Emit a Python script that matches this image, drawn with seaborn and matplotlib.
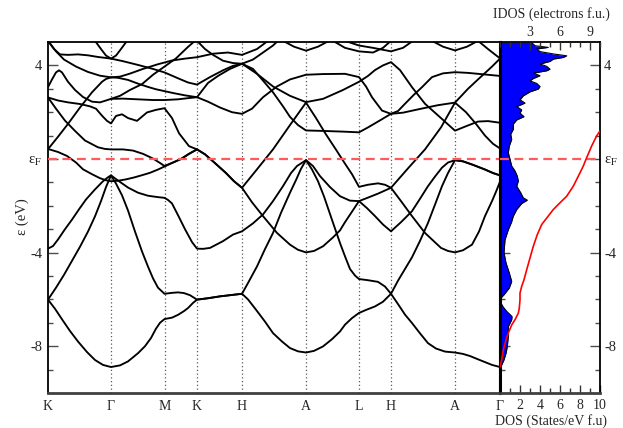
import matplotlib
matplotlib.use("Agg")
import matplotlib.pyplot as plt
import pandas as pd
import seaborn as sns
from matplotlib.ticker import FixedLocator, MultipleLocator

# High-symmetry path (positions along the path, arbitrary length units)
kpoint_labels = ["K", "Γ", "M", "K", "H", "A", "L", "H", "A", "Γ"]
kpoint_pos = [0, 63, 116.5, 149, 194, 258, 311, 343, 407, 452]

# Band energies (eV, relative to the Fermi level) as (k, E) pairs
band01 = [(0, -6.01), (7, -6.4), (14, -6.85), (22, -7.35), (30, -7.8), (39, -8.25), (47, -8.59), (55, -8.8),
          (63, -8.89), (72, -8.82), (80, -8.65), (90, -8.3), (97, -8.0), (103, -7.65), (108, -7.25), (112, -7.0),
          (116.5, -6.84), (124, -6.78), (130, -6.66), (136, -6.5), (140, -6.37), (145, -6.15), (149, -6.01),
          (160, -5.95), (172, -5.87), (184, -5.81), (194, -5.76), (200, -6.0), (208, -6.44), (217, -6.95),
          (225, -7.44), (234, -7.8), (242, -8.08), (250, -8.22), (258, -8.27), (266, -8.2), (275, -8.01),
          (284, -7.7), (292, -7.37), (297, -7.08), (304, -6.8), (311, -6.58), (318, -6.45), (327, -6.3),
          (335, -6.1), (343, -5.76), (350, -6.2), (357, -6.65), (364, -7.01), (372, -7.45), (380, -7.87),
          (388, -8.1), (397, -8.23), (407, -8.27), (415, -8.33), (422, -8.42), (430, -8.56), (437, -8.68),
          (444, -8.8), (452, -8.89)]
band02 = [(0, -6.01), (8, -5.5), (16, -4.95), (24, -4.35), (32, -3.75), (40, -3.1), (47, -2.45), (53, -1.8),
          (58, -1.2), (63, -0.70), (68, -1.05), (74, -1.55), (80, -2.2), (87, -3.1), (94, -3.95), (100, -4.6),
          (105, -5.1), (110, -5.5), (116.5, -5.76), (124, -5.72), (130, -5.70), (136, -5.73), (142, -5.82),
          (149, -6.01), (160, -5.95), (172, -5.87), (184, -5.81), (194, -5.76), (200, -5.3), (209, -4.59),
          (217, -3.85), (225, -3.16), (233, -2.3), (242, -1.44), (248, -0.9), (253, -0.42), (258, -0.05),
          (264, -0.45), (270, -0.95), (276, -1.6), (284, -2.6), (292, -3.59), (297, -4.16), (302, -4.7),
          (307, -4.98), (311, -5.13), (320, -5.18), (330, -5.25), (337, -5.45), (343, -5.76), (350, -5.2),
          (357, -4.7), (364, -4.2), (372, -3.5), (380, -2.73), (387, -1.95), (394, -1.16), (400, -0.6),
          (407, -0.05), (415, -0.1), (425, -0.25), (437, -0.45), (445, -0.6), (452, -0.70)]
band03 = [(0, -3.83), (5, -3.72), (10, -3.44), (17, -3.0), (24, -2.59), (31, -2.15), (38, -1.73), (47, -1.3),
          (55, -0.95), (60, -0.78), (63, -0.70), (70, -0.92), (80, -1.22), (90, -1.44), (100, -1.57),
          (110, -1.63), (116.5, -1.66), (120, -1.75), (124, -1.9), (130, -2.4), (137, -3.0), (144, -3.55),
          (149, -3.83), (155, -3.84), (162, -3.8), (175, -3.51), (185, -3.23), (194, -3.09), (205, -2.75),
          (215, -2.37), (225, -1.8), (235, -1.16), (243, -0.6), (249, -0.3), (258, -0.05), (265, -0.3),
          (272, -0.73), (282, -1.2), (292, -1.59), (302, -1.78), (311, -1.80), (319, -2.1), (327, -2.44),
          (335, -2.8), (343, -3.09), (353, -2.7), (364, -2.23), (372, -1.7), (380, -1.16), (387, -0.75),
          (394, -0.37), (400, -0.15), (407, -0.05), (415, -0.1), (425, -0.25), (437, -0.45), (445, -0.6),
          (452, -0.70)]
band04 = [(0, 0.43), (10, 0.3), (19, 0.13), (28, -0.15), (35, -0.44), (44, -0.65), (52, -0.82), (58, -0.91),
          (63, -0.95), (70, -0.93), (78, -0.87), (86, -0.79), (95, -0.68), (102, -0.59), (110, -0.45),
          (116.5, -0.32), (125, -0.15), (133, 0.0), (141, 0.22), (149, 0.41), (157, 0.2), (165, -0.1),
          (178, -0.6), (186, -0.95), (194, -1.23), (204, -1.85), (215, -2.44), (229, -3.16), (242, -3.66),
          (250, -3.88), (258, -3.99), (266, -3.93), (275, -3.73), (285, -3.35), (292, -3.05), (297, -2.7),
          (304, -2.25), (311, -1.80), (320, -1.65), (330, -1.48), (343, -1.23), (353, -1.8), (364, -2.44),
          (377, -3.16), (393, -3.8), (400, -3.93), (407, -3.99), (415, -3.9), (424, -3.66), (431, -3.1),
          (437, -2.44), (444, -1.8), (448, -1.4), (452, -0.97)]
band05 = [(0, 2.63), (8, 2.15), (17, 1.64), (27, 1.2), (37, 0.79), (50, 0.5), (57, 0.43), (63, 0.41),
          (75, 0.41), (85, 0.36), (95, 0.22), (105, 0.02), (112, -0.17), (116.5, -0.30), (125, -0.15),
          (133, 0.0), (141, 0.22), (149, 0.41), (157, 0.2), (165, -0.1), (178, -0.6), (186, -0.95),
          (194, -1.23), (209, -0.44), (225, 0.41), (242, 1.45), (258, 2.41), (268, 1.75), (278, 1.05),
          (288, 0.4), (297, -0.2), (304, -0.65), (311, -1.19), (320, -1.1), (330, -1.04), (337, -1.1),
          (343, -1.23), (360, -0.4), (377, 0.41), (393, 1.35), (407, 2.41), (420, 3.0), (430, 3.4),
          (444, 3.95), (452, 4.29)]
band06 = [(0, 0.42), (10, 0.95), (20, 1.5), (32, 2.2), (44, 2.85), (54, 3.3), (58, 3.42), (63, 3.49),
          (70, 3.47), (80, 3.38), (90, 3.22), (100, 3.08), (108, 2.98), (116.5, 2.9), (125, 2.82), (137, 2.72),
          (149, 2.64), (160, 2.45), (172, 2.2), (184, 2.0), (194, 1.93), (204, 2.15), (215, 2.64), (229, 3.1),
          (242, 3.4), (258, 3.6), (275, 3.63), (297, 3.64), (311, 3.5), (318, 3.1), (324, 2.64), (334, 2.07),
          (343, 1.93), (350, 2.05), (357, 2.36), (366, 2.75), (374, 3.07), (384, 3.5), (395, 3.66),
          (407, 3.71), (420, 3.68), (435, 3.62), (452, 3.55)]
band07 = [(0, 2.63), (10, 2.5), (20, 2.42), (32, 2.35), (42, 2.25), (48, 2.15), (54, 1.85), (59, 1.63),
          (63, 1.52), (68, 1.84), (74, 1.91), (80, 1.75), (89, 1.63), (99, 1.99), (108, 2.1), (116.5, 2.17),
          (124, 1.75), (131, 1.1), (141, 0.55), (149, 0.41)]
band08 = [(0, 3.07), (4, 3.4), (8, 3.7), (11, 3.79), (14, 3.7), (20, 3.3), (27, 2.95), (35, 2.65), (44, 2.45),
          (52, 2.42), (58, 2.5), (63, 2.57), (75, 2.58), (90, 2.55), (105, 2.52), (116.5, 2.52), (130, 2.55),
          (140, 2.6), (149, 2.64), (160, 3.25), (170, 3.55), (182, 3.85), (194, 4.07), (205, 3.85), (212, 3.5),
          (225, 2.85), (235, 2.25), (242, 1.8), (250, 1.45), (258, 1.22), (275, 1.2), (295, 1.17), (311, 1.14),
          (320, 1.35), (330, 1.6), (343, 1.93), (355, 1.98), (370, 2.12), (390, 2.3), (407, 2.41), (418, 2.0),
          (428, 1.5), (437, 1.0), (445, 0.65), (452, 0.45)]
band09 = [(0, 5.05), (6, 4.7), (12, 4.47), (20, 4.45), (30, 4.47), (40, 4.43), (50, 4.36), (63, 4.29),
          (75, 4.18), (90, 4.02), (105, 3.85), (116.5, 3.7), (130, 3.45), (140, 3.27), (149, 3.18), (162, 3.5),
          (175, 3.79), (185, 3.98), (194, 4.07), (209, 3.64), (225, 3.1), (242, 2.7), (258, 2.43), (275, 2.57),
          (295, 2.95), (311, 3.3), (320, 3.55), (327, 3.8), (335, 4.0), (343, 4.14), (352, 3.8), (364, 3.07),
          (377, 2.36), (394, 1.71), (407, 1.21), (418, 1.4), (430, 1.6), (440, 1.62), (452, 1.55)]
band10 = [(0, 5.05), (8, 4.6), (16, 4.25), (28, 3.95), (40, 3.72), (52, 3.56), (63, 3.49), (72, 3.52),
          (82, 3.65), (95, 3.85), (110, 4.05), (124, 4.21), (137, 4.29), (149, 4.35), (165, 4.5), (180, 4.55),
          (194, 4.45), (209, 4.7), (220, 5.05)]
band11 = [(63, 2.57), (72, 2.7), (82, 2.95), (94, 3.2), (105, 3.6), (116.5, 3.95), (128, 4.3), (140, 4.79),
          (147, 5.05)]
band12 = [(47, 5.05), (53, 4.7), (58, 4.42), (63, 4.29), (68, 4.42), (73, 4.7), (79, 5.05)]
band13 = [(149, 5.05), (157, 4.7), (165, 4.45), (175, 4.2), (185, 4.1), (194, 4.07), (205, 4.25), (215, 4.55),
          (225, 4.85), (230, 5.05)]
band14 = [(235, 5.05), (246, 4.8), (258, 4.63), (270, 4.8), (281, 5.05)]
band15 = [(285, 5.05), (297, 4.75), (311, 4.6), (325, 4.55), (335, 4.75), (343, 5.05)]
band16 = [(297, 5.05), (311, 4.85), (325, 4.75), (343, 4.6), (355, 4.75), (365, 5.05)]
band17 = [(384, 5.05), (395, 4.8), (407, 4.64), (419, 4.8), (430, 5.05)]
band18 = [(430, 5.05), (440, 4.7), (452, 4.3)]

bands = [band01, band02, band03, band04, band05, band06, band07, band08, band09,
         band10, band11, band12, band13, band14, band15, band16, band17, band18]

# Density of states (states/eV f.u.) against energy
dos_energy = [5.0, 4.91, 4.84, 4.77, 4.7, 4.59, 4.49, 4.41, 4.34, 4.27, 4.17, 4.06, 3.96, 3.84, 3.77, 3.67,
              3.56, 3.44, 3.34, 3.23, 3.1, 2.99, 2.87, 2.7, 2.53, 2.39, 2.24, 2.1, 1.96, 1.81, 1.67, 1.49,
              1.27, 1.06, 0.84, 0.56, 0.27, -0.01, -0.3, -0.51, -0.73, -0.94, -1.16, -1.44, -1.66, -1.76,
              -1.9, -2.16, -2.44, -2.7, -3.02, -3.45, -4.0, -4.44, -4.87, -5.23, -5.51, -5.8, -5.98, -6.16,
              -6.33, -6.51, -6.73, -6.87, -7.16, -7.58, -8.01, -8.3, -8.58, -8.8, -8.9, -10.0]
dos_value = [3.0, 3.33, 3.5, 4.83, 3.67, 4.0, 5.33, 6.67, 6.33, 5.33, 5.0, 4.0, 4.67, 5.0, 4.67, 3.33,
             4.0, 3.33, 3.0, 3.67, 4.0, 3.83, 3.0, 2.33, 2.0, 2.5, 1.67, 2.17, 2.0, 2.4, 1.67, 1.33,
             1.33, 1.07, 1.17, 0.93, 0.83, 1.0, 1.17, 1.5, 1.73, 1.83, 1.67, 2.07, 2.33, 2.73,
             2.17, 1.67, 1.33, 1.15, 0.83, 0.5, 0.4, 0.6, 0.93, 1.17, 0.93, 0.4, 0.0, 0.1,
             0.33, 0.67, 1.2, 1.17, 0.83, 0.83, 0.73, 0.6, 0.4, 0.17, 0.0, 0.0]

# Integrated DOS (electrons f.u.) against energy
idos_energy = [-8.88, -8.58, -8.16, -7.73, -7.44, -7.09, -6.87, -6.59, -6.37, -6.02, -5.73, -5.44, -5.16,
               -4.73, -4.23, -3.73, -3.23, -2.8, -2.45, -2.16, -1.87, -1.59, -1.16, -0.59, -0.3, 0.06,
               0.56, 0.99, 1.2]
idos_value = [0.0, 0.17, 0.33, 0.6, 0.83, 1.17, 1.5, 1.83, 1.93, 2.0, 2.0, 2.17, 2.4, 2.67, 3.0, 3.33, 3.73,
              4.17, 4.8, 5.33, 6.0, 6.67, 7.33, 8.0, 8.33, 8.67, 9.17, 9.67, 10.0]

energy_ticks = [-8, -4, 0, 4]
energy_ticklabels = ["-8", "-4", r"ε$_{\mathrm{F}}$", "4"]
dos_ticks = [0, 2, 4, 6, 8, 10]
dos_ticklabels = ["", "2", "4", "6", "8", "10"]
idos_ticks = [3, 6, 9]

sns.set_style("white")
plt.rcParams["font.family"] = ["Liberation Serif", "DejaVu Serif"]
plt.rcParams["mathtext.fontset"] = "stix"
plt.rcParams["font.size"] = 10

W, H = 623, 428
fig = plt.figure(figsize=(W / 100, H / 100), dpi=100)
ax = fig.add_axes([48 / W, 35 / H, 452 / W, 351 / H])
axd = fig.add_axes([500 / W, 35 / H, 100 / W, 351 / H])

# ---- band structure panel ----
rows = [(i, k, e) for i, b in enumerate(bands) for k, e in b]
df = pd.DataFrame(rows, columns=["band", "k", "E"])
sns.lineplot(data=df, x="k", y="E", units="band", estimator=None, sort=False,
             color="black", linewidth=1.35, ax=ax, legend=False, zorder=3)

for p in kpoint_pos[1:-1]:
    ax.axvline(p, color="0.35", linestyle=(0, (1, 2)), linewidth=0.9, zorder=1)
ax.axhline(0, color="#ff5a5a", linewidth=1.6, dashes=(4, 2.5), zorder=4)

ax.set_xlim(kpoint_pos[0], kpoint_pos[-1])
ax.set_ylim(-10, 5)
ax.set_xticks(kpoint_pos)
ax.set_xticklabels(kpoint_labels)
ax.set_yticks(energy_ticks)
ax.set_yticklabels(energy_ticklabels)
ax.yaxis.set_minor_locator(FixedLocator([v for v in range(-9, 5) if v not in energy_ticks]))
ax.tick_params(axis="x", length=0, pad=5)
ax.tick_params(axis="y", which="both", direction="in", left=True, right=False, color="0.3", width=1.0)
ax.tick_params(axis="y", which="major", length=7, pad=4, labelsize=10.5)
ax.tick_params(axis="y", which="minor", length=3.6)
ax.set_xlabel("")
ax.set_ylabel("")
for s in ("left", "top"):
    ax.spines[s].set_linewidth(1.3)
    ax.spines[s].set_color("black")
ax.spines["right"].set_linewidth(2.2)
ax.spines["right"].set_color("black")
ax.spines["bottom"].set_linewidth(2.0)
ax.spines["bottom"].set_color("0.25")

# ---- DOS panel ----
axd.fill_betweenx(dos_energy, 0, dos_value, color="#0000ff", linewidth=0, zorder=2)
axd.plot(dos_value, dos_energy, color="black", linewidth=0.8, zorder=3)
axd.axhline(0, color="#ff5a5a", linewidth=1.6, dashes=(4, 2.5), zorder=4)
axd.set_xlim(0, 10)
axd.set_ylim(-10, 5)
axd.set_xticks(dos_ticks)
axd.set_xticklabels(dos_ticklabels)
axd.xaxis.set_minor_locator(MultipleLocator(1))
axd.set_yticks(energy_ticks)
axd.set_yticklabels(energy_ticklabels)
axd.yaxis.set_minor_locator(FixedLocator([v for v in range(-9, 5) if v not in energy_ticks]))
axd.tick_params(axis="x", which="both", direction="in", bottom=True, top=False, color="0.2", width=1.0)
axd.tick_params(axis="x", which="major", length=5.5, pad=4)
axd.tick_params(axis="x", which="minor", length=3.5)
axd.tick_params(axis="y", which="both", direction="in", left=True, right=True,
                labelleft=False, labelright=True, color="0.3", width=1.0)
axd.tick_params(axis="y", which="major", length=7, pad=3, labelsize=10.5)
axd.tick_params(axis="y", which="minor", length=3.6)
axd.spines["left"].set_linewidth(2.2)
axd.spines["left"].set_color("black")
for s in ("right", "top"):
    axd.spines[s].set_linewidth(1.3)
    axd.spines[s].set_color("black")
axd.spines["bottom"].set_linewidth(2.0)
axd.spines["bottom"].set_color("0.25")

# ---- integrated DOS on the top axis ----
axt = axd.twiny()
sns.lineplot(x=idos_value, y=idos_energy, sort=False, estimator=None, color="red",
             linewidth=1.2, ax=axt, zorder=5)
axt.set_xlim(0, 10)
axt.set_ylim(-10, 5)
axt.set_xticks(idos_ticks)
axt.set_xticklabels([str(t) for t in idos_ticks])
axt.xaxis.set_minor_locator(MultipleLocator(1))
axt.tick_params(axis="x", which="both", direction="in", top=True, bottom=False, color="0.2", width=1.0)
axt.tick_params(axis="x", which="major", length=5.5, pad=2)
axt.tick_params(axis="x", which="minor", length=3.5)
axt.set_xlabel("")
axt.set_ylabel("")
for s in axt.spines.values():
    s.set_visible(False)

fig.text(22 / W, 1 - 217 / H, "ε (eV)", rotation=90, ha="center", va="center", fontsize=10.5)
fig.text(551 / W, 1 - 421 / H, "DOS (States/eV f.u)", ha="center", va="center")
fig.text(551 / W, 1 - 14 / H, "IDOS (electrons f.u.)", ha="center", va="center")

fig.savefig("out.png", dpi=100)
